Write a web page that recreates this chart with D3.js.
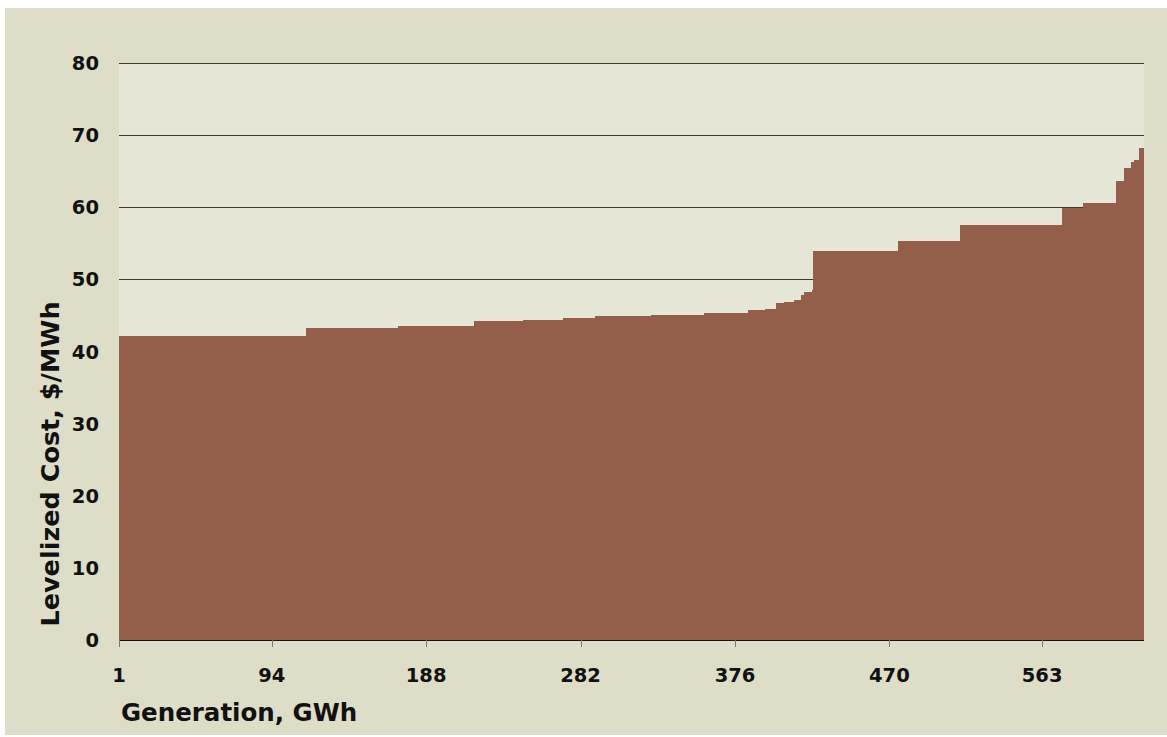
<!DOCTYPE html>
<html>
<head>
<meta charset="utf-8">
<script src="https://cdn.jsdelivr.net/npm/d3@7"></script>
<style>
  body { margin: 0; background: #ffffff; }
  text { font-family: "DejaVu Sans", Verdana, sans-serif; font-weight: bold; fill: #111; }
</style>
</head>
<body>
<div id="chart"></div>
<script>
// step edges in GWh (n+1 values) and levelized cost of each step
var edges = [1, 115, 171, 217, 247, 271, 291, 325, 357, 384, 394, 401, 406, 412, 416, 418, 421, 422.8, 423.4,
             475, 513, 575, 588, 608, 613, 617, 619, 622, 625];
var costs = [42.2, 43.2, 43.6, 44.2, 44.4, 44.7, 44.9, 45.1, 45.3, 45.7, 45.9, 46.7, 46.8, 47.2, 47.8, 48.2, 48.3, 48.5,
             53.9, 55.3, 57.5, 59.9, 60.6, 63.6, 65.5, 66.3, 66.5, 68.2];
var xTicks = [1, 94, 188, 282, 376, 470, 563];
var yTicks = [0, 10, 20, 30, 40, 50, 60, 70, 80];

var W = 1167, H = 737;
var margin = {top: 63, left: 119, right: 23, bottom: 97};
var width = W - margin.left - margin.right;
var height = H - margin.top - margin.bottom;

var svg = d3.select("#chart").append("svg")
    .attr("width", W)
    .attr("height", H);

// outer tan frame
svg.append("rect")
    .attr("x", 5).attr("y", 8)
    .attr("width", W - 5).attr("height", 727)
    .attr("fill", "#dedec8");

var g = svg.append("g")
    .attr("transform", "translate(" + margin.left + "," + margin.top + ")");

var x = d3.scaleLinear().domain([1, 625]).range([0, width]);
var y = d3.scaleLinear().domain([0, 80]).range([height, 0]);

g.append("rect")
    .attr("width", width).attr("height", height)
    .attr("fill", "#e6e6d6");

// gridlines
g.selectAll(".grid")
    .data(yTicks.filter(function(d){ return d > 0; }))
    .enter()
    .append("line")
    .attr("class", "grid")
    .attr("x1", 0).attr("x2", width)
    .attr("y1", function(d){ return Math.round(y(d)) + 0.5; })
    .attr("y2", function(d){ return Math.round(y(d)) + 0.5; })
    .attr("stroke", "#3a3a32")
    .attr("stroke-width", 1);

// stepped supply curve
var pts = costs.map(function(c, i){ return [edges[i], c]; });
pts.push([edges[edges.length - 1], costs[costs.length - 1]]);

var area = d3.area()
    .x(function(d){ return x(d[0]); })
    .y0(y(0))
    .y1(function(d){ return y(d[1]); })
    .curve(d3.curveStepAfter);

g.append("path")
    .datum(pts)
    .attr("d", area)
    .attr("fill", "#935e4a")
    .attr("shape-rendering", "crispEdges");

// x axis
var xAxis = g.append("g")
    .attr("transform", "translate(0," + height + ")");

xAxis.append("line")
    .attr("x1", 0).attr("x2", width)
    .attr("y1", 0.5).attr("y2", 0.5)
    .attr("stroke", "#111");

xAxis.selectAll(".xtick")
    .data(xTicks)
    .enter()
    .append("line")
    .attr("x1", function(d){ return Math.round(x(d)) + 0.5; })
    .attr("x2", function(d){ return Math.round(x(d)) + 0.5; })
    .attr("y1", 0).attr("y2", 7)
    .attr("stroke", "#777");

xAxis.selectAll(".xlab")
    .data(xTicks)
    .enter()
    .append("text")
    .attr("x", function(d){ return x(d); })
    .attr("y", 42)
    .attr("text-anchor", "middle")
    .style("font-size", "19.5px")
    .text(function(d){ return d; });

// y tick labels
g.selectAll(".ylab")
    .data(yTicks)
    .enter()
    .append("text")
    .attr("x", -20)
    .attr("y", function(d){ return y(d); })
    .attr("dy", "0.36em")
    .attr("text-anchor", "end")
    .style("font-size", "19.5px")
    .text(function(d){ return d; });

// axis titles
svg.append("text")
    .attr("x", 121)
    .attr("y", 721)
    .style("font-size", "24.5px")
    .text("Generation, GWh");

svg.append("text")
    .attr("transform", "translate(59,464) rotate(-90)")
    .attr("text-anchor", "middle")
    .style("font-size", "25.5px")
    .text("Levelized Cost, $/MWh");
</script>
</body>
</html>
